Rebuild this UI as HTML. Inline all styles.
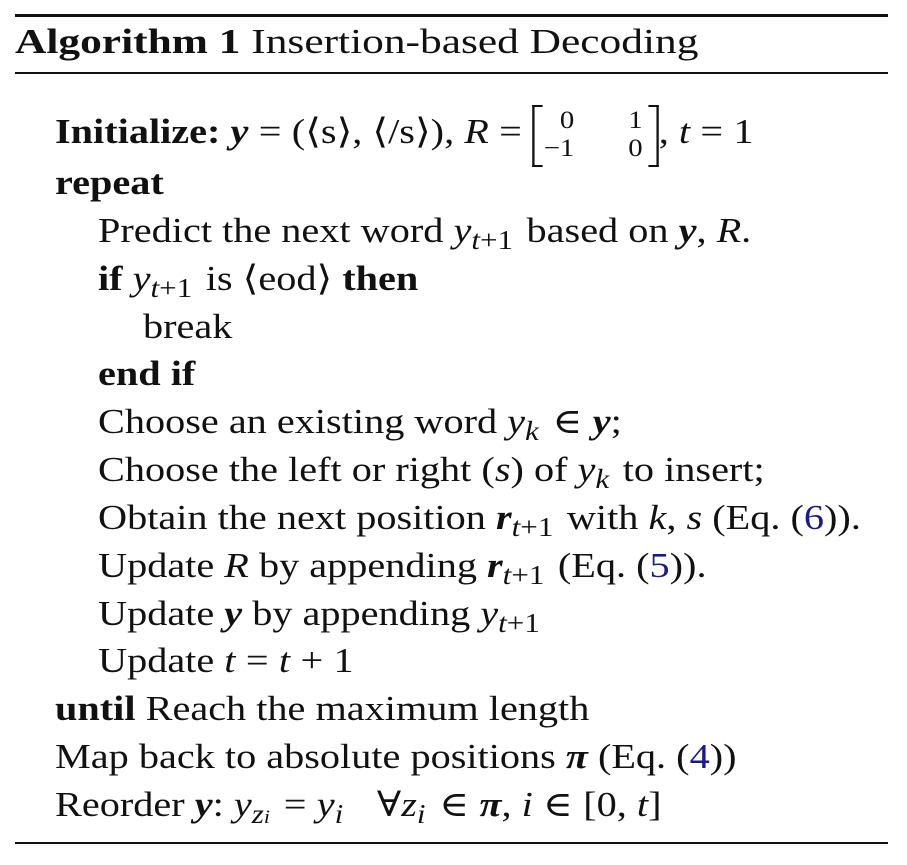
<!DOCTYPE html>
<html><head><meta charset="utf-8"><style>
html,body{margin:0;padding:0;background:#fff;}
#root{position:relative;width:907px;height:865px;overflow:hidden;font-family:"Liberation Serif","DejaVu Serif",serif;color:#111;font-size:35px;}
.ln{position:absolute;white-space:nowrap;line-height:40px;height:40px;transform:scaleX(1.15);transform-origin:0 0;}
.rule{position:absolute;left:15px;width:873px;background:#111;}
i{font-style:italic;}
b{font-weight:bold;}
.bi{font-weight:bold;font-style:italic;}
sub{font-size:27px;vertical-align:-7px;line-height:0;margin-right:3px;}
.ref{color:#1a1a8c;}
.op{margin:0 9px;}
.mat{display:inline-block;vertical-align:middle;position:relative;width:110px;height:60px;font-size:25px;}
.mat .br{position:absolute;top:0;width:7px;height:58px;border:2px solid #111;}
.mat .l{left:0;border-right:none;}
.mat .r{right:0;border-left:none;}
.mat span{position:absolute;line-height:28px;}
</style></head><body>
<div id="root">
<div class="rule" style="top:14px;height:3px"></div>
<div class="ln" style="left:15px;top:22px;transform:scaleX(1.24)"><b>Algorithm 1</b> Insertion-based Decoding</div>
<div class="rule" style="top:72px;height:2px"></div>

<div class="ln" style="left:55px;top:105px;height:44px"><b>Initialize:</b> <span class="bi">y</span><span class="op">=</span>(⟨s⟩, ⟨/s⟩), <i>R</i><span class="op">=</span><span class="mat"><span class="br l"></span><span style="left:24px;top:2px">0</span><span style="right:14px;top:2px">1</span><span style="left:10px;top:30px">−1</span><span style="right:14px;top:30px">0</span><span class="br r"></span></span>, <i>t</i><span class="op">=</span>1</div>
<div class="ln" style="left:55px;top:163px"><b>repeat</b></div>
<div class="ln" style="left:98px;top:211px">Predict the next word <i>y</i><sub><i>t</i>+1</sub> based on <span class="bi">y</span>, <i>R</i>.</div>
<div class="ln" style="left:98px;top:259px"><b>if</b> <i>y</i><sub><i>t</i>+1</sub> is ⟨eod⟩ <b>then</b></div>
<div class="ln" style="left:143px;top:307px">break</div>
<div class="ln" style="left:98px;top:354px"><b>end if</b></div>
<div class="ln" style="left:98px;top:402px">Choose an existing word <i>y</i><sub><i>k</i></sub><span class="op">∈</span><span class="bi">y</span>;</div>
<div class="ln" style="left:98px;top:450px">Choose the left or right (<i>s</i>) of <i>y</i><sub><i>k</i></sub> to insert;</div>
<div class="ln" style="left:98px;top:498px">Obtain the next position <span class="bi">r</span><sub><i>t</i>+1</sub> with <i>k</i>, <i>s</i> (Eq. (<span class="ref">6</span>)).</div>
<div class="ln" style="left:98px;top:546px">Update <i>R</i> by appending <span class="bi">r</span><sub><i>t</i>+1</sub> (Eq. (<span class="ref">5</span>)).</div>
<div class="ln" style="left:98px;top:594px">Update <span class="bi">y</span> by appending <i>y</i><sub><i>t</i>+1</sub></div>
<div class="ln" style="left:98px;top:641px">Update <i>t</i><span class="op">=</span><i>t</i><span class="op">+</span>1</div>
<div class="ln" style="left:55px;top:689px"><b>until</b> Reach the maximum length</div>
<div class="ln" style="left:55px;top:737px">Map back to absolute positions <span class="bi">π</span> (Eq. (<span class="ref">4</span>))</div>
<div class="ln" style="left:55px;top:785px">Reorder <span class="bi">y</span>: <i>y</i><sub><i>z<span style="font-size:19px">i</span></i></sub><span class="op">=</span><i>y</i><sub><i>i</i></sub> &nbsp; ∀<i>z</i><sub><i>i</i></sub><span class="op">∈</span><span class="bi">π</span>, <i>i</i><span class="op">∈</span>[0, <i>t</i>]</div>
<div class="rule" style="top:842px;height:2px"></div>
</div>
</body></html>
